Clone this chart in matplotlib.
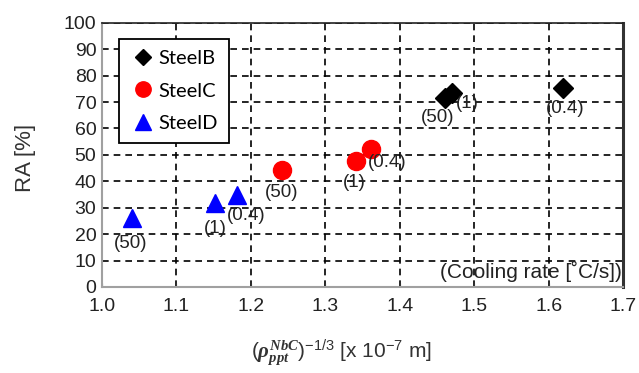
import matplotlib
matplotlib.use("Agg")
import matplotlib.pyplot as plt

plt.rcParams['font.family'] = ['Liberation Sans', 'DejaVu Sans']
plt.rcParams['mathtext.fontset'] = 'custom'
plt.rcParams['mathtext.rm'] = 'Liberation Sans'
plt.rcParams['mathtext.it'] = 'Liberation Serif:italic:bold'

# Precipitate spacing (x 1e-7 m) vs reduction of area (%)
steel_b_x = [1.461, 1.470, 1.620]
steel_b_y = [71.5, 73.3, 75.3]
steel_b_labels = ["(50)", "(1)", "(0.4)"]

steel_c_x = [1.242, 1.341, 1.362]
steel_c_y = [44.3, 47.7, 52.2]
steel_c_labels = ["(50)", "(1)", "(0.4)"]

steel_d_x = [1.040, 1.152, 1.181]
steel_d_y = [26.0, 31.8, 34.8]
steel_d_labels = ["(50)", "(1)", "(0.4)"]

x_ticks = [1.0, 1.1, 1.2, 1.3, 1.4, 1.5, 1.6, 1.7]
y_ticks = list(range(0, 101, 10))

fig = plt.figure(figsize=(6.39, 3.73), dpi=100)
ax = fig.add_axes([0.1596, 0.2306, 0.8154, 0.7084])

ax.set_xlim(1.0, 1.7)
ax.set_ylim(0, 100)
ax.set_xticks(x_ticks)
ax.set_xticklabels([f"{v:.1f}" for v in x_ticks])
ax.set_yticks(y_ticks)
ax.grid(True, color='black', linestyle=(0, (4, 3)), linewidth=1.2)
ax.set_axisbelow(True)
ax.tick_params(axis='both', labelsize=14, length=3, direction='in', color='#333333',
               labelcolor='#222222')
ax.tick_params(axis='y', length=0, pad=4)
ax.tick_params(axis='x', pad=8)

for side in ['left', 'bottom']:
    ax.spines[side].set_color('#a0a0a0')
    ax.spines[side].set_linewidth(1.5)
ax.spines['top'].set_color('#222222')
ax.spines['top'].set_linewidth(1.2)
ax.spines['right'].set_color('#333333')
ax.spines['right'].set_linewidth(2.2)

ax.plot(steel_b_x, steel_b_y, linestyle='none', marker='D', color='black',
        markersize=10, label='SteelB')
ax.plot(steel_c_x, steel_c_y, linestyle='none', marker='o', color='#ff0000',
        markersize=13, label='SteelC')
ax.plot(steel_d_x, steel_d_y, linestyle='none', marker='^', color='#0000ff',
        markersize=13, label='SteelD')

# cooling-rate labels, offset from each marker in data units
label_kw = dict(fontsize=13.5, color='#222222', ha='center', va='center')
offsets_b = [(-0.010, -7.2), (0.021, -3.7), (0.002, -7.6)]
offsets_c = [(-0.001, -8.7), (-0.002, -8.0), (0.021, -5.0)]
offsets_d = [(-0.001, -9.4), (0.0, -9.5), (0.0125, -7.9)]
for xs, ys, labs, offs in [(steel_b_x, steel_b_y, steel_b_labels, offsets_b),
                           (steel_c_x, steel_c_y, steel_c_labels, offsets_c),
                           (steel_d_x, steel_d_y, steel_d_labels, offsets_d)]:
    for x, y, t, (dx, dy) in zip(xs, ys, labs, offs):
        ax.text(x + dx, y + dy, t, **label_kw)

ax.text(0.997, 0.06, "(Cooling rate [\u02daC/s])", transform=ax.transAxes,
        ha='right', va='center', fontsize=15, color='#222222')

leg = ax.legend(loc='upper left', bbox_to_anchor=(0.0134, 0.976),
                prop={'family': 'Lato', 'size': 14.5},
                frameon=True, fancybox=False, handletextpad=0.1,
                handlelength=1.3, borderpad=0.55, labelspacing=0.75,
                markerscale=0.85)
leg.get_frame().set_edgecolor('black')
leg.get_frame().set_linewidth(1.3)
leg.get_frame().set_alpha(1)

fig.text(25 / 639, 1 - 158 / 373, "RA [%]", rotation=90, fontsize=16,
         color='#333333', ha='center', va='center')
fig.text(341 / 639, 1 - 352 / 373,
         r"$(\mathit{\rho}_{\mathit{ppt}}^{\mathit{NbC}})$$^{\mathrm{-1/3}}$ [x 10$^{\mathrm{-7}}$ m]",
         fontsize=15, color='#333333', ha='center', va='center')

fig.savefig("out.png", dpi=100)
